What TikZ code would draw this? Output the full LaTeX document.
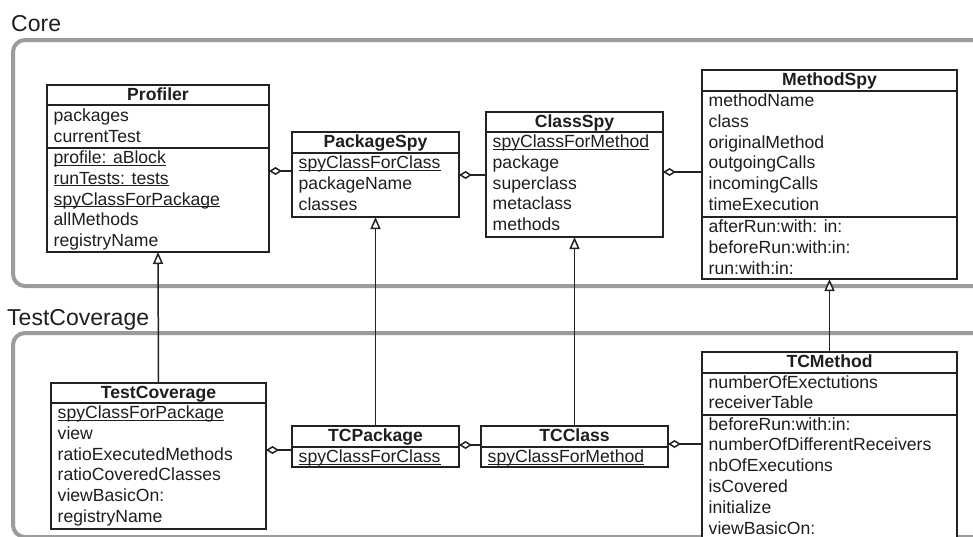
\documentclass[tikz,border=0pt]{standalone}
\usepackage{fontspec}
\setmainfont{Liberation Sans}
\usetikzlibrary{arrows.meta}
\definecolor{linec}{HTML}{222222}
\definecolor{textc}{HTML}{1E1E1E}
\definecolor{framec}{HTML}{9B9B9B}
\newcommand\rowfont{\fontsize{17.6}{20.8}\selectfont}
\newcommand\labelfont{\fontsize{23}{26}\selectfont}
\newcommand\myul[1]{\setbox0\hbox{#1}\rlap{\rule[-2pt]{\wd0}{1pt}}\box0}
\newcommand\umlrows[4]{\foreach \txt [count=\i] in {#4} {\node[row] (#1\i) at (#2,{#3+20.8*(\i-1)}) {\txt};}}
\begin{document}
\begin{tikzpicture}[x=1pt,y=-1pt,
  frame/.style={draw=framec, line width=4pt, rounded corners=12pt},
  classbox/.style={draw=linec, line width=1.5pt, fill=white, anchor=north west, inner sep=0pt, outer sep=0pt},
  sepline/.style={draw=linec, line width=1.5pt},
  row/.style={anchor=base west, inner sep=0pt, text=textc, font=\rowfont},
  title/.style={anchor=base, inner sep=0pt, text=textc, font=\rowfont\bfseries},
  pkglabel/.style={anchor=base west, inner sep=0pt, text=textc, font=\labelfont},
  agg/.style={draw=linec, line width=1.5pt, {Diamond[open, fill=white, length=13pt, width=8pt]}-},
  gen/.style={draw=linec, line width=1.5pt, -{Triangle[open, fill=white, length=12pt, width=10pt]}}]
\useasboundingbox (0,0) rectangle (973,536);
\clip (0,0) rectangle (973,536);
% package frames
\draw[frame] (13,40) rectangle (1000,286);
\draw[frame] (13,333) rectangle (1000,537);
\node[pkglabel] (corelabel) at (11,31) {Core};
\node[pkglabel] (tclabel) at (7,325) {TestCoverage};
% class boxes
\node[classbox, minimum width=222pt, minimum height=167pt] (profiler) at (47,85) {};
\node[classbox, minimum width=167pt, minimum height=85pt] (pkgspy) at (292,132) {};
\node[classbox, minimum width=177pt, minimum height=125pt] (classspy) at (486,112) {};
\node[classbox, minimum width=255pt, minimum height=209pt] (methodspy) at (702,70) {};
\node[classbox, minimum width=215pt, minimum height=146pt] (testcov) at (51,383) {};
\node[classbox, minimum width=167pt, minimum height=41pt] (tcpackage) at (292,426) {};
\node[classbox, minimum width=187pt, minimum height=41pt] (tcclass) at (481,426) {};
\node[classbox, minimum width=255pt, minimum height=190pt] (tcmethod) at (702,352) {};
% separators
\draw[sepline] ([yshift=-20pt]profiler.north west) -- ([yshift=-20pt]profiler.north east);
\draw[sepline] ([yshift=-63pt]profiler.north west) -- ([yshift=-63pt]profiler.north east);
\draw[sepline] ([yshift=-21pt]pkgspy.north west) -- ([yshift=-21pt]pkgspy.north east);
\draw[sepline] ([yshift=-20pt]classspy.north west) -- ([yshift=-20pt]classspy.north east);
\draw[sepline] ([yshift=-21pt]methodspy.north west) -- ([yshift=-21pt]methodspy.north east);
\draw[sepline] ([yshift=-147pt]methodspy.north west) -- ([yshift=-147pt]methodspy.north east);
\draw[sepline] ([yshift=-20pt]testcov.north west) -- ([yshift=-20pt]testcov.north east);
\draw[sepline] ([yshift=-21pt]tcpackage.north west) -- ([yshift=-21pt]tcpackage.north east);
\draw[sepline] ([yshift=-21pt]tcclass.north west) -- ([yshift=-21pt]tcclass.north east);
\draw[sepline] ([yshift=-21pt]tcmethod.north west) -- ([yshift=-21pt]tcmethod.north east);
\draw[sepline] ([yshift=-63pt]tcmethod.north west) -- ([yshift=-63pt]tcmethod.north east);
% titles
\node[title] (proft) at ([yshift=-15pt]profiler.north) {Profiler};
\node[title] (pkgt) at ([yshift=-15.5pt]pkgspy.north) {PackageSpy};
\node[title] (clst) at ([yshift=-15pt]classspy.north) {ClassSpy};
\node[title] (metht) at ([yshift=-15.5pt]methodspy.north) {MethodSpy};
\node[title] (tct) at ([yshift=-15pt]testcov.north) {TestCoverage};
\node[title] (tcpt) at ([yshift=-15.5pt]tcpackage.north) {TCPackage};
\node[title] (tcct) at ([yshift=-15.5pt]tcclass.north) {TCClass};
\node[title] (tcmt) at ([yshift=-15.5pt]tcmethod.north) {TCMethod};
% rows
\umlrows{profa}{53.5}{121.5}{packages, currentTest}
\umlrows{profm}{53.5}{163.5}{\myul{profile: aBlock}, \myul{runTests: tests}, \myul{spyClassForPackage}, allMethods, registryName}
\umlrows{pkga}{298.5}{168.5}{\myul{spyClassForClass}, packageName, classes}
\umlrows{clsa}{492.5}{147.5}{\myul{spyClassForMethod}, package, superclass, metaclass, methods}
\umlrows{metha}{708.5}{106.5}{methodName, class, originalMethod, outgoingCalls, incomingCalls, timeExecution}
\umlrows{methm}{708.5}{232.5}{afterRun:with: in:, beforeRun:with:in:, run:with:in:}
\umlrows{tca}{57.5}{418.5}{\myul{spyClassForPackage}, view, ratioExecutedMethods, ratioCoveredClasses, viewBasicOn:, registryName}
\umlrows{tcpa}{298.5}{462.5}{\myul{spyClassForClass}}
\umlrows{tcca}{487.5}{462.5}{\myul{spyClassForMethod}}
\umlrows{tcma}{708.5}{388}{numberOfExectutions, receiverTable}
\umlrows{tcmm}{708.5}{430}{beforeRun:with:in:, numberOfDifferentReceivers, nbOfExecutions, isCovered, initialize, viewBasicOn:}
% connector heights
\coordinate (ya) at (0,171);
\coordinate (yb) at (0,175);
\coordinate (yc) at (0,172);
\coordinate (yd) at (0,450);
\coordinate (ye) at (0,445);
\coordinate (yf) at (0,444);
% aggregations
\draw[agg] (profiler.east |- ya) -- (pkgspy.west |- ya);
\draw[agg] (pkgspy.east |- yb) -- (classspy.west |- yb);
\draw[agg] (classspy.east |- yc) -- (methodspy.west |- yc);
\draw[agg] (testcov.east |- yd) -- (tcpackage.west |- yd);
\draw[agg] (tcpackage.east |- ye) -- (tcclass.west |- ye);
\draw[agg] (tcclass.east |- yf) -- (tcmethod.west |- yf);
% generalizations
\draw[gen] (testcov.north) -- (profiler.south);
\draw[gen] (tcpackage.north) -- (pkgspy.south);
\draw[gen] (tcclass.north) -- (classspy.south);
\draw[gen] (tcmethod.north) -- (methodspy.south);
\end{tikzpicture}
\end{document}
